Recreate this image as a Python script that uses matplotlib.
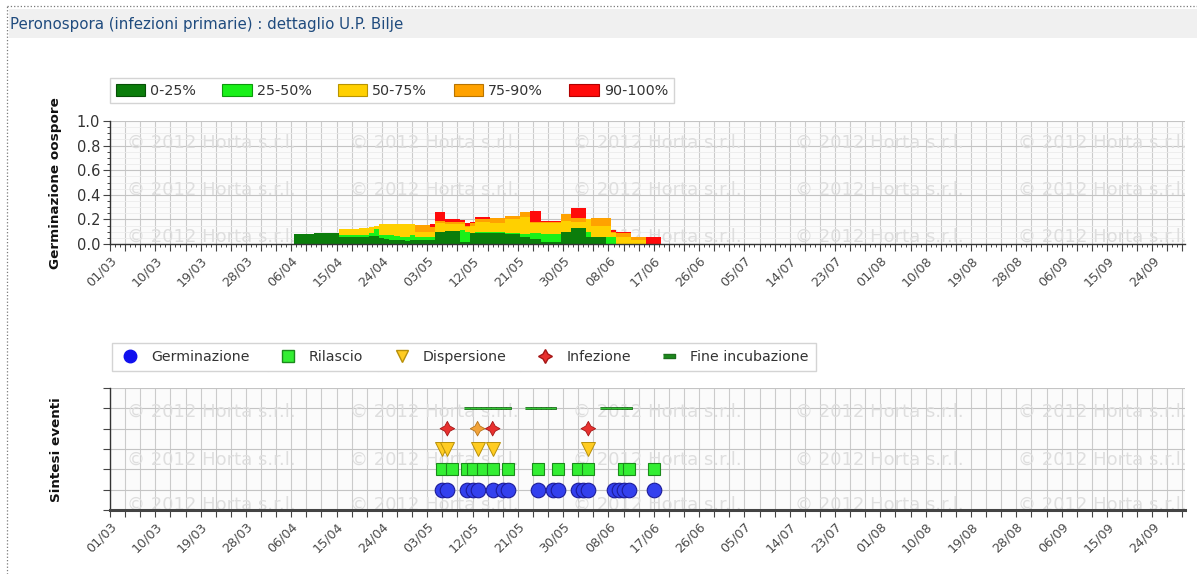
import matplotlib

matplotlib.use("Agg")

import matplotlib.dates as mdates
import matplotlib.pyplot as plt
import numpy as np
from matplotlib.lines import Line2D
from matplotlib.patches import Patch, Rectangle
from matplotlib.ticker import FixedLocator, FuncFormatter, MultipleLocator
from matplotlib.transforms import blended_transform_factory


OUTPUT_FILE = "out.png"

TITLE = "Peronospora (infezioni primarie) : dettaglio U.P. Bilje"
WATERMARK = "\u00a9 2012 Horta s.r.l."

SEASON_START = np.datetime64("2012-03-01")
FIRST_BAR_DAY = np.datetime64("2012-04-07")

CLASS_LABELS = ["0-25%", "25-50%", "50-75%", "75-90%", "90-100%"]
CLASS_COLORS = ["#0b7d0b", "#19f019", "#ffd000", "#ffa200", "#ff0a0a"]
CLASS_EDGES = ["#065006", "#0c9a0c", "#b89400", "#b87400", "#b00000"]

# daily germination share per class (one value per day from 07/04)
class_0_25 = [
    0.08, 0.08, 0.08, 0.08, 0.09, 0.09, 0.09, 0.09, 0.09, 0.06,
    0.06, 0.06, 0.06, 0.06, 0.06, 0.065, 0.065, 0.045, 0.04, 0.035,
    0.03, 0.03, 0.025, 0.03, 0.03, 0.03, 0.03, 0.03, 0.10, 0.10,
    0.105, 0.105, 0.105, 0.02, 0.02, 0.09, 0.09, 0.09, 0.09, 0.09,
    0.09, 0.09, 0.085, 0.085, 0.085, 0.055, 0.055, 0.04, 0.04, 0.02,
    0.02, 0.02, 0.02, 0.095, 0.095, 0.13, 0.13, 0.13, 0.06, 0.06,
    0.06, 0.06, 0.0, 0.0, 0.0, 0.0, 0.0, 0.0, 0.0, 0.0,
    0.0, 0.0, 0.0,
]
class_25_50 = [
    0.0, 0.0, 0.0, 0.0, 0.0, 0.0, 0.0, 0.0, 0.0, 0.01,
    0.01, 0.01, 0.01, 0.015, 0.015, 0.025, 0.06, 0.03, 0.03, 0.035,
    0.035, 0.03, 0.035, 0.04, 0.03, 0.03, 0.03, 0.03, 0.0, 0.0,
    0.0, 0.0, 0.0, 0.09, 0.08, 0.0, 0.01, 0.01, 0.01, 0.01,
    0.01, 0.01, 0.005, 0.005, 0.005, 0.025, 0.025, 0.05, 0.05, 0.06,
    0.06, 0.06, 0.06, 0.0, 0.0, 0.0, 0.0, 0.0, 0.04, 0.0,
    0.0, 0.0, 0.06, 0.06, 0.0, 0.0, 0.0, 0.0, 0.0, 0.0,
    0.0, 0.0, 0.0,
]
class_50_75 = [
    0.0, 0.0, 0.0, 0.0, 0.0, 0.0, 0.0, 0.0, 0.0, 0.05,
    0.05, 0.05, 0.05, 0.055, 0.055, 0.05, 0.025, 0.09, 0.095, 0.095,
    0.10, 0.105, 0.10, 0.09, 0.04, 0.04, 0.04, 0.04, 0.07, 0.07,
    0.055, 0.055, 0.055, 0.05, 0.04, 0.06, 0.08, 0.08, 0.08, 0.07,
    0.07, 0.07, 0.11, 0.11, 0.11, 0.14, 0.14, 0.08, 0.08, 0.09,
    0.09, 0.09, 0.09, 0.095, 0.095, 0.05, 0.05, 0.05, 0.10, 0.09,
    0.09, 0.09, 0.09, 0.03, 0.06, 0.06, 0.06, 0.03, 0.03, 0.03,
    0.0, 0.0, 0.0,
]
class_75_90 = [
    0.0, 0.0, 0.0, 0.0, 0.0, 0.0, 0.0, 0.0, 0.0, 0.0,
    0.0, 0.0, 0.0, 0.0, 0.0, 0.0, 0.0, 0.0, 0.0, 0.0,
    0.0, 0.0, 0.0, 0.0, 0.055, 0.055, 0.055, 0.04, 0.02, 0.02,
    0.02, 0.02, 0.02, 0.015, 0.01, 0.02, 0.02, 0.02, 0.02, 0.045,
    0.045, 0.045, 0.03, 0.03, 0.03, 0.04, 0.04, 0.01, 0.01, 0.01,
    0.01, 0.01, 0.01, 0.05, 0.05, 0.03, 0.03, 0.03, 0.0, 0.06,
    0.06, 0.06, 0.06, 0.01, 0.03, 0.03, 0.03, 0.03, 0.03, 0.03,
    0.0, 0.0, 0.0,
]
class_90_100 = [
    0.0, 0.0, 0.0, 0.0, 0.0, 0.0, 0.0, 0.0, 0.0, 0.0,
    0.0, 0.0, 0.0, 0.0, 0.0, 0.0, 0.0, 0.0, 0.0, 0.0,
    0.0, 0.0, 0.0, 0.0, 0.0, 0.0, 0.0, 0.02, 0.07, 0.07,
    0.02, 0.02, 0.02, 0.02, 0.02, 0.01, 0.02, 0.02, 0.02, 0.0,
    0.0, 0.0, 0.0, 0.0, 0.0, 0.0, 0.0, 0.09, 0.09, 0.01,
    0.01, 0.01, 0.01, 0.0, 0.0, 0.08, 0.08, 0.08, 0.0, 0.0,
    0.0, 0.0, 0.0, 0.015, 0.01, 0.01, 0.01, 0.0, 0.0, 0.0,
    0.06, 0.06, 0.06,
]

# events shown in the lower panel
germinazione_dates = [
    "2012-05-06", "2012-05-07", "2012-05-11", "2012-05-12", "2012-05-13",
    "2012-05-16", "2012-05-18", "2012-05-19", "2012-05-25", "2012-05-28",
    "2012-05-29", "2012-06-02", "2012-06-03", "2012-06-04", "2012-06-09",
    "2012-06-10", "2012-06-11", "2012-06-12", "2012-06-17",
]
rilascio_dates = [
    "2012-05-06", "2012-05-08", "2012-05-11", "2012-05-12", "2012-05-14",
    "2012-05-16", "2012-05-19", "2012-05-25", "2012-05-29", "2012-06-02",
    "2012-06-04", "2012-06-11", "2012-06-12", "2012-06-17",
]
dispersione_dates = [
    "2012-05-06", "2012-05-07", "2012-05-13", "2012-05-16", "2012-06-04",
]
infezione_dates = ["2012-05-07", "2012-05-13", "2012-05-16", "2012-06-04"]
infezione_colors = ["#e8312f", "#f2a43a", "#e8312f", "#e8312f"]
infezione_edges = ["#a51616", "#b8741a", "#a51616", "#a51616"]
fine_incubazione_dates = [
    "2012-05-11", "2012-05-12", "2012-05-13", "2012-05-14", "2012-05-15",
    "2012-05-16", "2012-05-17", "2012-05-18", "2012-05-19",
    "2012-05-23", "2012-05-24", "2012-05-25", "2012-05-26", "2012-05-27",
    "2012-05-28",
    "2012-06-07", "2012-06-08", "2012-06-09", "2012-06-10", "2012-06-11",
    "2012-06-12",
]

EVENT_LEVELS = {
    "Germinazione": 1,
    "Rilascio": 2,
    "Dispersione": 3,
    "Infezione": 4,
    "Fine incubazione": 5,
}

FIG_W, FIG_H = 1197, 574


def fx(px):
    return px / FIG_W


def fy(py):
    return 1 - py / FIG_H


def to_num(date_strings):
    return mdates.date2num(np.array(date_strings, dtype="datetime64[D]"))


def style_date_axis(axis, start_num, daily_minor):
    tick_values = start_num + np.arange(0, 214, 3)
    axis.xaxis.set_major_locator(FixedLocator(tick_values))

    def label(value, _pos):
        offset = int(round(value - start_num))
        if offset % 9 != 0:
            return ""
        return mdates.num2date(value).strftime("%d/%m")

    axis.xaxis.set_major_formatter(FuncFormatter(label))
    if daily_minor:
        axis.xaxis.set_minor_locator(MultipleLocator(1))
        axis.tick_params(axis="x", which="minor", length=2.5,
                         color="#444444", width=0.7)
    axis.tick_params(axis="x", which="major", length=5, color="#444444",
                     width=0.8, labelsize=9.2, labelcolor="#4a4a4a", pad=2)
    for tick_label in axis.get_xticklabels():
        tick_label.set_rotation(45)
        tick_label.set_ha("right")
        tick_label.set_va("top")
        tick_label.set_rotation_mode("anchor")
    axis.grid(axis="x", which="major", color="#cbcbcb", linewidth=0.8)
    axis.set_xlim(start_num, start_num + 213.5)


def add_watermark(axis, rows):
    transform = blended_transform_factory(axis.transAxes, axis.transData)
    for y_value in rows:
        for x_frac in [0.016, 0.223, 0.431, 0.637, 0.845]:
            axis.text(x_frac, y_value, WATERMARK, transform=transform,
                      fontsize=13, color="#dedede", va="center",
                      ha="left", zorder=0.6, clip_on=True)


def main() -> None:
    figure = plt.figure(figsize=(FIG_W / 100, FIG_H / 100), dpi=100)
    figure.patch.set_facecolor("white")

    # header band and dotted frame
    figure.patches.append(Rectangle(
        (fx(9), fy(38)), fx(1188), 29 / FIG_H,
        transform=figure.transFigure, facecolor="#f0f0f0",
        edgecolor="none", zorder=0,
    ))
    figure.lines.append(Line2D(
        [fx(7), fx(7)], [0, fy(6)], transform=figure.transFigure,
        color="#7a7a7a", linestyle=":", linewidth=0.9,
    ))
    figure.lines.append(Line2D(
        [fx(7), 1], [fy(6), fy(6)], transform=figure.transFigure,
        color="#7a7a7a", linestyle=":", linewidth=0.9,
    ))
    figure.text(fx(10), fy(24), TITLE, fontsize=10.8,
                color="#1f4b7e", va="center", ha="left")

    start_num = mdates.date2num(SEASON_START)

    # ---------- upper panel: stacked daily germination ----------
    top_axis = figure.add_axes([fx(110), fy(244), fx(1075), 123 / FIG_H])
    top_axis.set_facecolor("#fbfbfb")
    top_axis.set_axisbelow(True)

    series = [class_0_25, class_25_50, class_50_75, class_75_90,
              class_90_100]
    bar_days = mdates.date2num(
        FIRST_BAR_DAY + np.arange(len(class_0_25)).astype("timedelta64[D]")
    )
    bottom = np.zeros(len(class_0_25))
    for values, color in zip(series, CLASS_COLORS):
        top_axis.bar(bar_days, values, width=1.0, bottom=bottom,
                     align="center", color=color, linewidth=0, zorder=2)
        bottom = bottom + np.array(values)

    top_axis.set_ylim(0, 1.0)
    top_axis.yaxis.set_major_locator(MultipleLocator(0.2))
    top_axis.yaxis.set_minor_locator(MultipleLocator(0.05))
    top_axis.yaxis.set_major_formatter(FuncFormatter(lambda v, _: f"{v:.1f}"))
    top_axis.tick_params(axis="y", which="major", length=5, width=0.8,
                         color="#444444", labelsize=10.5,
                         labelcolor="#333333", pad=2)
    top_axis.tick_params(axis="y", which="minor", length=2.5, width=0.7,
                         color="#444444")
    top_axis.grid(axis="y", which="major", color="#c4c4c4", linewidth=0.8)
    top_axis.grid(axis="y", which="minor", color="#ececec", linewidth=0.6)
    style_date_axis(top_axis, start_num, daily_minor=True)

    for side in ["top", "right"]:
        top_axis.spines[side].set_visible(False)
    for side in ["left", "bottom"]:
        top_axis.spines[side].set_color("#333333")
        top_axis.spines[side].set_linewidth(1.0)

    add_watermark(top_axis, [0.82, 0.44, 0.06])

    figure.text(fx(56), fy(183), "Germinazione oospore", rotation=90,
                ha="center", va="center", fontsize=9.7, fontweight="bold",
                color="#111111")

    class_handles = [
        Patch(facecolor=color, edgecolor=edge, linewidth=0.8)
        for color, edge in zip(CLASS_COLORS, CLASS_EDGES)
    ]
    top_legend = figure.legend(
        class_handles, CLASS_LABELS, loc="upper left",
        bbox_to_anchor=(fx(110), fy(78)), ncol=5, frameon=True,
        fancybox=False, edgecolor="#d4d4d4", framealpha=1,
        prop={"size": 10.3},
        handlelength=2.05, handleheight=0.9, columnspacing=1.85,
        handletextpad=0.35, borderpad=0.4, borderaxespad=0,
    )
    for text in top_legend.get_texts():
        text.set_color("#333333")

    # ---------- lower panel: event summary ----------
    bottom_axis = figure.add_axes([fx(110), fy(510), fx(1075), 122 / FIG_H])
    bottom_axis.set_facecolor("#fbfbfb")
    bottom_axis.set_axisbelow(True)

    bottom_axis.plot(
        to_num(fine_incubazione_dates),
        [EVENT_LEVELS["Fine incubazione"]] * len(fine_incubazione_dates),
        linestyle="none",
        marker=[(-1, -0.28), (1, -0.28), (1, 0.28), (-1, 0.28)],
        markersize=3.9, markerfacecolor="#34c634",
        markeredgecolor="#1d6e1d", markeredgewidth=0.6, zorder=3,
    )
    bottom_axis.scatter(
        to_num(infezione_dates),
        [EVENT_LEVELS["Infezione"]] * len(infezione_dates),
        marker=(4, 1, 0), s=110, c=infezione_colors,
        edgecolors=infezione_edges, linewidths=0.6, zorder=3,
    )
    bottom_axis.plot(
        to_num(dispersione_dates),
        [EVENT_LEVELS["Dispersione"]] * len(dispersione_dates),
        linestyle="none", marker="v", markersize=10.5,
        markerfacecolor="#ffcc22", markeredgecolor="#b8900a",
        markeredgewidth=0.7, zorder=3,
    )
    bottom_axis.plot(
        to_num(rilascio_dates),
        [EVENT_LEVELS["Rilascio"]] * len(rilascio_dates),
        linestyle="none", marker="s", markersize=8.5,
        markerfacecolor="#33ee33", markeredgecolor="#1b8a1b",
        markeredgewidth=0.8, zorder=3,
    )
    bottom_axis.plot(
        to_num(germinazione_dates),
        [EVENT_LEVELS["Germinazione"]] * len(germinazione_dates),
        linestyle="none", marker="o", markersize=10.5,
        markerfacecolor="#3340ee", markeredgecolor="#1b1b9a",
        markeredgewidth=0.8, zorder=3,
    )

    bottom_axis.set_ylim(0, 6)
    bottom_axis.set_yticks(range(0, 7))
    bottom_axis.set_yticklabels([])
    bottom_axis.tick_params(axis="y", length=5, width=0.8, color="#444444")
    bottom_axis.grid(axis="y", color="#c4c4c4", linewidth=0.8)
    style_date_axis(bottom_axis, start_num, daily_minor=False)

    for side in ["top", "right"]:
        bottom_axis.spines[side].set_visible(False)
    bottom_axis.spines["left"].set_color("#333333")
    bottom_axis.spines["left"].set_linewidth(1.0)
    bottom_axis.spines["bottom"].set_color("#444444")
    bottom_axis.spines["bottom"].set_linewidth(2.2)

    add_watermark(bottom_axis, [4.85, 2.45, 0.25])

    figure.text(fx(56), fy(450), "Sintesi eventi", rotation=90,
                ha="center", va="center", fontsize=9.7, fontweight="bold",
                color="#111111")

    event_handles = [
        Line2D([], [], linestyle="none", marker="o", markersize=9,
               markerfacecolor="#1010ee", markeredgecolor="#1010ee"),
        Line2D([], [], linestyle="none", marker="s", markersize=8,
               markerfacecolor="#33ee33", markeredgecolor="#1b8a1b"),
        Line2D([], [], linestyle="none", marker="v", markersize=9,
               markerfacecolor="#ffcc22", markeredgecolor="#b8900a"),
        Line2D([], [], linestyle="none", marker=(4, 1, 0), markersize=10,
               markerfacecolor="#e8312f", markeredgecolor="#a51616"),
        Line2D([], [], linestyle="none",
               marker=[(-1, -0.3), (1, -0.3), (1, 0.3), (-1, 0.3)],
               markersize=8, markerfacecolor="#1d8a1d",
               markeredgecolor="#1d6e1d"),
    ]
    event_legend = figure.legend(
        event_handles, list(EVENT_LEVELS.keys()), loc="upper left",
        bbox_to_anchor=(fx(112), fy(343)), ncol=5, frameon=True,
        fancybox=False, edgecolor="#d4d4d4", framealpha=1,
        prop={"size": 10.2},
        handlelength=1.5, columnspacing=1.95, handletextpad=0.75,
        borderpad=0.5, borderaxespad=0,
    )
    for text in event_legend.get_texts():
        text.set_color("#333333")

    # thin separators between legend entries
    for sep_x in [268, 378, 520, 645]:
        figure.lines.append(Line2D(
            [fx(sep_x), fx(sep_x)], [fy(371), fy(347)],
            transform=figure.transFigure, color="#e2e2e2", linewidth=0.8,
        ))

    figure.savefig(OUTPUT_FILE, dpi=100)
    plt.close(figure)


if __name__ == "__main__":
    main()
